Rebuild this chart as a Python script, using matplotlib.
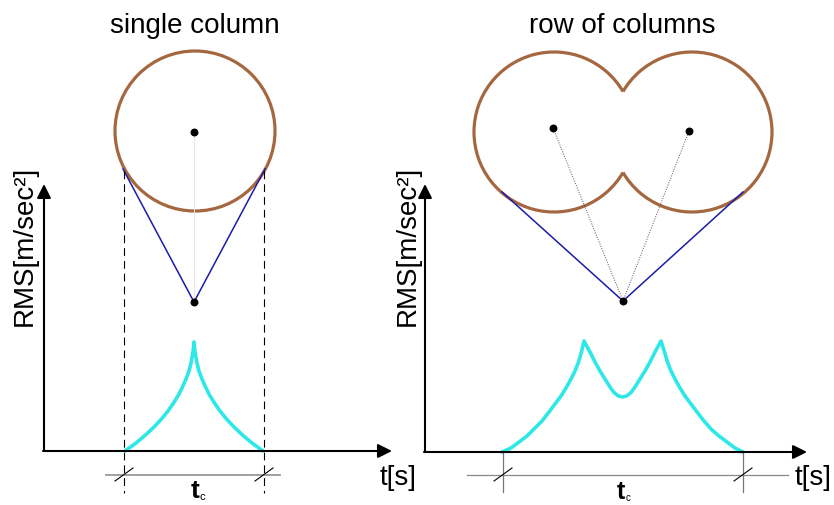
import matplotlib.pyplot as plt
import numpy as np
from matplotlib.patches import Circle, Arc

plt.rcParams['font.family'] = ['Liberation Sans', 'DejaVu Sans']

# everything is laid out in picture pixels (y grows downwards)
brown = '#a5673f'
cyan = '#2ee8e8'
navy = '#1c1ca8'

# single column
col_center = (195, 132)
col_radius = 80
col_dot = (194, 133)
col_vertex = (194, 303)
col_tangent_x = [123, 194, 265]
col_tangent_y = [170, 303, 170]
col_edges = [124, 264]

col_rms_x = [125, 136, 145.5, 154, 161.5, 168, 173.5, 178.5, 182.5, 186, 189, 191, 192.5, 193.5,
             194,
             194.5, 195.5, 197, 199, 202, 205.5, 209.5, 214.5, 220, 226.5, 234, 242.5, 252, 263]
col_rms_y = [452, 444, 436, 428, 420, 412, 404, 396, 388, 380, 372, 364, 356, 349,
             343,
             349, 356, 364, 372, 380, 388, 396, 404, 412, 420, 428, 436, 444, 452]

# row of columns
row_centers = [(554, 133), (692, 133)]
row_radius = 80
row_dots_x = [553, 689]
row_dots_y = [129, 132]
row_vertex = (623, 302)
row_tangent_x = [502, 623, 743]
row_tangent_y = [193, 302, 193]
row_edges = [503, 743]

row_rms_x = [502, 511, 519, 527, 534, 542, 549, 555, 561, 566, 571, 575, 578.5, 581.5,
             584, 590, 595, 600, 605, 610, 614, 618, 622.5, 627, 631, 635, 640, 645, 650, 655,
             661, 664.5, 667.5, 671, 675, 680, 685, 691, 697, 704, 711, 719, 727, 735, 743]
row_rms_y = [453, 449, 443, 437, 430, 422, 413, 405, 397, 389, 380, 372, 363, 353,
             342, 353, 363, 372, 380, 388, 393.5, 396.8, 398, 396.8, 393.5, 388, 380, 372, 363, 353,
             342, 353, 363, 372, 380, 389, 397, 405, 413, 422, 430, 437, 443, 449, 453]

fig = plt.figure(figsize=(8.34, 5.06), dpi=100)
ax = fig.add_axes([0, 0, 1, 1])
ax.set_xlim(0, 834)
ax.set_ylim(506, 0)
ax.axis('off')

arrow = dict(arrowstyle='-|>,head_length=0.4,head_width=0.2', lw=1.5,
             color='black', mutation_scale=21, shrinkA=0, shrinkB=0)

# ---- left panel ----
ax.add_patch(Circle(col_center, col_radius, fill=False, ec=brown, lw=2.3))
ax.plot([col_dot[0], col_vertex[0]], [col_dot[1], col_vertex[1]],
        color='#e6e6e6', lw=0.8)
ax.plot(col_tangent_x, col_tangent_y, color=navy, lw=1.1)
ax.scatter([col_dot[0], col_vertex[0]], [col_dot[1], col_vertex[1]],
           s=22, color='black', zorder=5)
for x in col_edges:
    ax.plot([x, x], [172, 494], color='black', lw=0.8, ls=(0, (7, 4.5)))

ax.annotate('', xy=(44, 185), xytext=(44, 452), arrowprops=arrow)
ax.annotate('', xy=(392, 452), xytext=(43, 452), arrowprops=arrow)
ax.plot(col_rms_x, col_rms_y, color=cyan, lw=2.6,
        solid_capstyle='round', solid_joinstyle='round')

ax.plot([106, 280], [476, 476], color='#999999', lw=1.3)
for x in col_edges:
    ax.plot([x - 9, x + 9], [482, 469], color='black', lw=0.8)

ax.text(195, 33, 'single column', fontsize=20, ha='center', va='baseline')
ax.text(25, 246, 'RMS[m/sec²]', fontsize=20, rotation=90,
        ha='center', va='center')
ax.text(380, 485, 't[s]', fontsize=20, ha='left', va='baseline')
ax.text(195, 498, 't', fontsize=19, fontweight='bold', ha='center', va='baseline')
ax.text(202, 500, 'c', fontsize=8, ha='center', va='baseline')

# ---- right panel ----
(cx1, cy1), (cx2, cy2) = row_centers
cusp = np.degrees(np.arccos((cx2 - cx1) / 2 / row_radius))
ax.add_patch(Arc((cx1, cy1), 2 * row_radius, 2 * row_radius,
                 theta1=cusp, theta2=360 - cusp, ec=brown, lw=2.3))
ax.add_patch(Arc((cx2, cy2), 2 * row_radius, 2 * row_radius,
                 theta1=-(180 - cusp), theta2=180 - cusp, ec=brown, lw=2.3))
for dx, dy in zip(row_dots_x, row_dots_y):
    ax.plot([row_vertex[0], dx], [row_vertex[1], dy],
            color='#555555', lw=0.7, ls=(0, (1, 1.5)))
ax.plot(row_tangent_x, row_tangent_y, color=navy, lw=1.1)
ax.scatter(row_dots_x + [row_vertex[0]], row_dots_y + [row_vertex[1]],
           s=22, color='black', zorder=5)

ax.annotate('', xy=(425, 185), xytext=(425, 453), arrowprops=arrow)
ax.annotate('', xy=(807, 453), xytext=(424, 453), arrowprops=arrow)
ax.plot(row_rms_x, row_rms_y, color=cyan, lw=2.6,
        solid_capstyle='round', solid_joinstyle='round')

ax.plot([467, 788], [476, 476], color='#888888', lw=0.9)
for x in row_edges:
    ax.plot([x, x], [454, 493], color='#777777', lw=0.9)
    ax.plot([x - 9, x + 9], [482, 469], color='black', lw=0.8)

ax.text(622, 33, 'row of columns', fontsize=20, ha='center', va='baseline')
ax.text(408, 246, 'RMS[m/sec²]', fontsize=20, rotation=90,
        ha='center', va='center')
ax.text(795, 485, 't[s]', fontsize=20, ha='left', va='baseline')
ax.text(621, 499, 't', fontsize=18, fontweight='bold', ha='center', va='baseline')
ax.text(628, 501, 'c', fontsize=7, ha='center', va='baseline')

fig.savefig('out.png', dpi=100)
